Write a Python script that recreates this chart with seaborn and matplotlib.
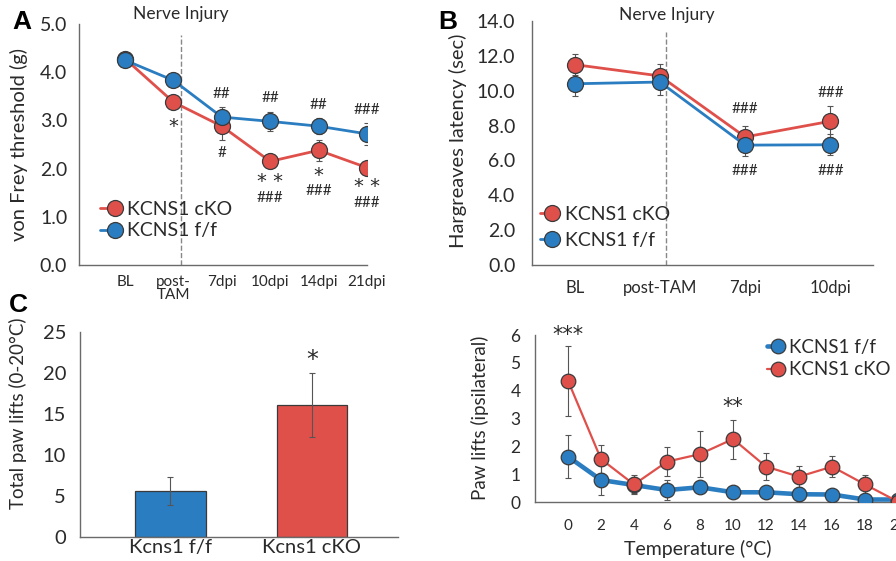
import numpy as np
import pandas as pd
import matplotlib
matplotlib.use('Agg')
import matplotlib.pyplot as plt
from matplotlib.legend_handler import HandlerLine2DCompound
import seaborn as sns

# panel A - von Frey
timepoints_a = ['BL', 'post-\nTAM', '7dpi', '10dpi', '14dpi', '21dpi']
vf_cko = [4.28, 3.38, 2.88, 2.15, 2.38, 2.02]
vf_cko_err = [0.10, 0.13, 0.28, 0.12, 0.22, 0.10]
vf_ff = [4.25, 3.83, 3.07, 2.98, 2.88, 2.72]
vf_ff_err = [0.08, 0.12, 0.20, 0.20, 0.17, 0.22]
stars_a = ['', '*', '', '* *', '*', '* *']
hash_ff_a = ['', '', '##', '##', '##', '###']
hash_cko_a = ['', '', '#', '###', '###', '###']

# panel B - Hargreaves
timepoints_b = ['BL', 'post-TAM', '7dpi', '10dpi']
hg_cko = [11.5, 10.85, 7.35, 8.25]
hg_cko_err = [0.6, 0.7, 0.6, 0.9]
hg_ff = [10.4, 10.5, 6.88, 6.9]
hg_ff_err = [0.7, 0.75, 0.65, 0.6]
hash_cko_b = ['', '', '###', '###']
hash_ff_b = ['', '', '###', '###']

# panel C - total cold plate lifts
groups_c = ['Kcns1 f/f', 'Kcns1 cKO']
total_lifts = [5.6, 16.1]
total_lifts_err = [1.7, 3.9]

# panel D - lifts vs temperature
temps = [0, 2, 4, 6, 8, 10, 12, 14, 16, 18, 20]
lifts_ff = [1.64, 0.80, 0.62, 0.44, 0.54, 0.36, 0.36, 0.29, 0.28, 0.10, 0.10]
lifts_ff_err = [0.77, 0.52, 0.30, 0.36, 0.12, 0.10, 0.10, 0.25, 0.10, 0.08, 0.05]
lifts_cko = [4.36, 1.55, 0.64, 1.46, 1.73, 2.27, 1.28, 0.92, 1.28, 0.64, 0.02]
lifts_cko_err = [1.25, 0.50, 0.35, 0.53, 0.82, 0.70, 0.48, 0.40, 0.37, 0.33, 0.02]
stars_d = {0: ('***', 6.0), 10: ('**', 3.43)}

RED = '#e0504b'
BLUE = '#2a7dc0'
EDGE = '#3a3a3a'
AXC = '#6a6a6a'
ERRC = '#555555'
TXT = '#2a2a2a'


class EndMarker(HandlerLine2DCompound):
    # marker sits on the right end of the legend line
    def get_xdata(self, legend, xdescent, ydescent, width, height, fontsize):
        xdata = np.array([-xdescent, -xdescent + width])
        return xdata, np.array([-xdescent + width])


def series(ax, x, y, err, color, lw, ms):
    df = pd.DataFrame({'x': x, 'y': y})
    sns.lineplot(data=df, x='x', y='y', ax=ax, color=color, linewidth=lw,
                 marker='o', markersize=ms, markeredgecolor=EDGE,
                 markeredgewidth=0.9, zorder=3)
    ax.errorbar(x, y, yerr=err, fmt='none', ecolor=ERRC, elinewidth=0.8,
                capsize=2, capthick=0.8, zorder=2)


def style_axes(ax):
    sns.despine(ax=ax)
    for s in ['left', 'bottom']:
        ax.spines[s].set_color(AXC)
        ax.spines[s].set_linewidth(1)


def legend(ax, colors, widths, labels, ms, fs, anchor, hl, pad, spacing):
    h = [plt.Line2D([], [], color=c, lw=w, marker='o', markersize=ms,
                    markeredgecolor=EDGE, markeredgewidth=0.9)
         for c, w in zip(colors, widths)]
    ax.legend(h, labels, loc='center left', bbox_to_anchor=anchor,
              frameon=False, fontsize=fs, handlelength=hl, handletextpad=pad,
              labelspacing=spacing, borderpad=0, borderaxespad=0,
              handler_map={plt.Line2D: EndMarker()})


def panel_a(fig):
    ax = fig.add_axes([0.0882, 0.5276, 0.3214, 0.4296])
    pos = np.arange(len(timepoints_a))
    series(ax, pos, vf_cko, vf_cko_err, RED, 2.0, 11.5)
    series(ax, pos, vf_ff, vf_ff_err, BLUE, 2.0, 11.5)
    ax.set_xlim(-0.95, 5)
    ax.set_ylim(0, 5)
    ax.set_yticks(np.arange(0, 5.1, 1))
    ax.set_yticklabels(['%.1f' % v for v in np.arange(0, 5.1, 1)], fontsize=14)
    ax.set_xticks(pos)
    ax.set_xticklabels(timepoints_a, fontsize=11, linespacing=0.95)
    ax.set_xticks([1, 3, 5], minor=True)
    ax.tick_params(axis='x', which='major', length=0, pad=7)
    ax.tick_params(axis='x', which='minor', length=4, color=AXC)
    ax.tick_params(axis='y', length=4.5, color=AXC, pad=4)
    ax.set_xlabel('')
    ax.set_ylabel('von Frey threshold (g)', fontsize=14.5)
    ax.yaxis.set_label_coords(-0.177, 0.5)
    style_axes(ax)
    ax.axvline(1.15, ymin=0, ymax=0.955, ls='--', color='#888888', lw=1, zorder=1)
    ax.text(1.15, 5.2, 'Nerve Injury', ha='center', va='center', fontsize=12.5,
            clip_on=False)
    for i in pos:
        if stars_a[i]:
            yy = 2.87 if i == 1 else vf_cko[i] - vf_cko_err[i] - 0.3
            ax.text(i, yy, stars_a[i], ha='center', va='center', fontsize=14,
                    family='DejaVu Sans', color=TXT)
        if hash_ff_a[i]:
            ax.text(i, vf_ff[i] + vf_ff_err[i] + 0.28, hash_ff_a[i],
                    ha='center', va='center', fontsize=11, color=TXT)
        if hash_cko_a[i]:
            yy = vf_cko[i] - vf_cko_err[i] - 0.27
            if stars_a[i]:
                yy -= 0.36
            ax.text(i, yy, hash_cko_a[i], ha='center', va='center',
                    fontsize=11, color=TXT)
    legend(ax, [RED, BLUE], [2, 2], ['KCNS1 cKO', 'KCNS1 f/f'], 11.5, 14,
           (0.073, 0.187), 0.77, 0.62, 0.25)


def panel_b(fig):
    ax = fig.add_axes([0.5938, 0.5276, 0.3806, 0.4349])
    pos = np.arange(len(timepoints_b))
    series(ax, pos, hg_cko, hg_cko_err, RED, 2.0, 11.5)
    series(ax, pos, hg_ff, hg_ff_err, BLUE, 2.0, 11.5)
    ax.set_xlim(-0.5, 3.5)
    ax.set_ylim(0, 14)
    ticks = np.arange(0, 14.1, 2)
    ax.set_yticks(ticks)
    ax.set_yticklabels(['%.1f' % v for v in ticks], fontsize=14)
    ax.set_xticks(pos)
    ax.set_xticklabels(timepoints_b, fontsize=12)
    ax.tick_params(axis='both', length=0)
    ax.tick_params(axis='x', pad=11)
    ax.tick_params(axis='y', pad=12)
    ax.set_xlabel('')
    ax.set_ylabel('Hargreaves latency (sec)', fontsize=14.5)
    ax.yaxis.set_label_coords(-0.19, 0.51)
    style_axes(ax)
    ax.axvline(1.07, ymin=0, ymax=0.955, ls='--', color='#888888', lw=1, zorder=1)
    ax.text(1.08, 14.35, 'Nerve Injury', ha='center', va='center', fontsize=12.5,
            clip_on=False)
    for i in pos:
        if hash_cko_b[i]:
            ax.text(i, hg_cko[i] + 1.6, hash_cko_b[i], ha='center',
                    va='center', fontsize=11, color=TXT)
        if hash_ff_b[i]:
            ax.text(i, hg_ff[i] - 1.5, hash_ff_b[i], ha='center',
                    va='center', fontsize=11, color=TXT)
    legend(ax, [RED, BLUE], [2, 2], ['KCNS1 cKO', 'KCNS1 f/f'], 11.5, 14,
           (0.023, 0.154), 0.62, 0.67, 0.5)


def panel_c(fig):
    ax = fig.add_axes([0.0893, 0.0433, 0.355, 0.3654])
    df = pd.DataFrame({'group': groups_c, 'lifts': total_lifts})
    sns.barplot(data=df, x='group', y='lifts', hue='group',
                palette=[BLUE, RED], width=0.5, edgecolor=EDGE, linewidth=0.9,
                saturation=1, legend=False, ax=ax)
    ax.errorbar(range(len(groups_c)), total_lifts, yerr=total_lifts_err,
                fmt='none', ecolor=ERRC, elinewidth=0.8, capsize=2, capthick=0.8)
    ax.set_xlim(-0.64, 1.61)
    ax.set_ylim(0, 25)
    ax.set_yticks(range(0, 26, 5))
    ax.tick_params(axis='y', labelsize=14.5, length=5, color=AXC, pad=5)
    ax.tick_params(axis='x', labelsize=14.5, length=0, pad=2)
    ax.set_xlabel('')
    ax.set_ylabel('Total paw lifts (0-20°C)', fontsize=13.5)
    ax.yaxis.set_label_coords(-0.167, 0.6)
    style_axes(ax)
    ax.text(1, total_lifts[1] + total_lifts_err[1] + 1.5, '*', ha='center',
            va='center', fontsize=17, family='DejaVu Sans', color=TXT)


def panel_d(fig):
    ax = fig.add_axes([0.5971, 0.1046, 0.4163, 0.2982])
    series(ax, temps, lifts_ff, lifts_ff_err, BLUE, 3.3, 10.5)
    series(ax, temps, lifts_cko, lifts_cko_err, RED, 1.6, 10.5)
    ax.set_xlim(-2, 20.6)
    ax.set_ylim(0, 6)
    ax.set_yticks(range(0, 7))
    ax.set_xticks(range(-2, 21, 2))
    ax.set_xticklabels([''] + [str(t) for t in temps])
    ax.tick_params(axis='y', labelsize=12.5, length=4.5, color=AXC, pad=6)
    ax.tick_params(axis='x', labelsize=11, length=3, color=AXC, pad=9)
    ax.set_ylabel('Paw lifts (ipsilateral)', fontsize=13.5)
    ax.yaxis.set_label_coords(-0.123, 0.507)
    ax.set_xlabel('Temperature (°C)', fontsize=14)
    ax.xaxis.set_label_coords(0.437, -0.225)
    style_axes(ax)
    for t, (s, yy) in stars_d.items():
        ax.text(t, yy, s, ha='center', va='center', fontsize=15,
                family='DejaVu Sans', color=TXT, clip_on=False)
    legend(ax, [BLUE, RED], [3.3, 1.6], ['KCNS1 f/f', 'KCNS1 cKO'], 10.5, 13.5,
           (0.622, 0.86), 0.58, 0.58, 0.3)


def main():
    sns.set_style('white')
    plt.rcParams['font.family'] = ['Lato', 'DejaVu Sans']
    plt.rcParams['text.color'] = TXT
    plt.rcParams['axes.labelcolor'] = TXT
    plt.rcParams['xtick.color'] = TXT
    plt.rcParams['ytick.color'] = TXT

    fig = plt.figure(figsize=(8.96, 5.61), dpi=100)
    panel_a(fig)
    panel_b(fig)
    panel_c(fig)
    panel_d(fig)
    for lab, x, y in [('A', 0.0245, 0.961), ('B', 0.5, 0.961), ('C', 0.02, 0.456)]:
        fig.text(x, y, lab, fontsize=19, fontweight='bold',
                 family='Liberation Sans', ha='center', va='center', color='black')
    fig.savefig('out.png', dpi=100)
    plt.close()


if __name__ == '__main__':
    main()
